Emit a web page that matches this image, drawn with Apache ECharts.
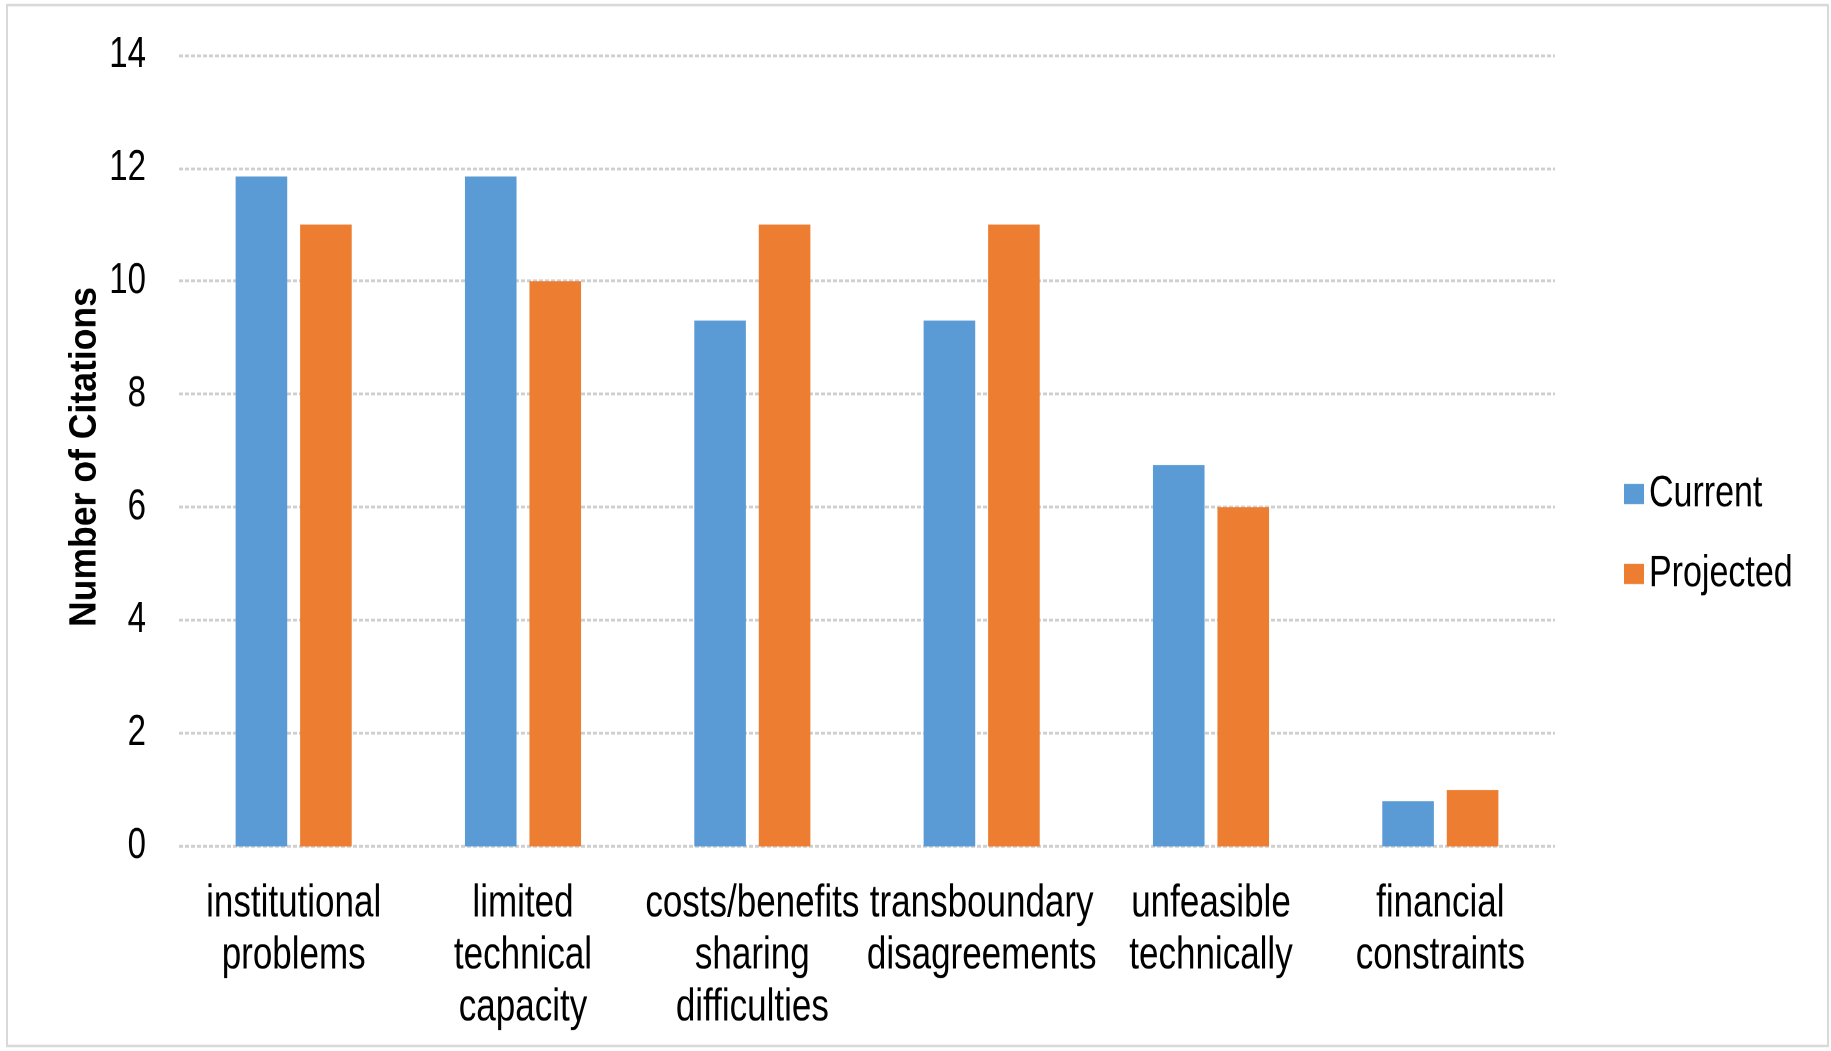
<!DOCTYPE html>
<html>
<head>
<meta charset="utf-8">
<title>Number of Citations</title>
<script src="https://cdn.jsdelivr.net/npm/echarts@6/dist/echarts.min.js"></script>
<style>
  html, body { margin: 0; padding: 0; background: #fff; width: 1831px; height: 1051px; }
  #frame { position: relative; width: 1831px; height: 1051px; }
  /* The chart is laid out on a shorter canvas and stretched vertically,
     which gives the tall, narrow lettering of the printed figure. */
  #chart {
    position: absolute;
    left: 0;
    top: 0;
    width: 1831px;
    height: 808.46px;
    transform: scaleY(1.3);
    transform-origin: 0 0;
  }
</style>
</head>
<body>
<div id="frame"><div id="chart"></div></div>
<script>
// Constraint categories shown along the x axis
const categories = [
  'institutional\nproblems',
  'limited\ntechnical\ncapacity',
  'costs/benefits\nsharing\ndifficulties',
  'transboundary\ndisagreements',
  'unfeasible\ntechnically',
  'financial\nconstraints'
];

// Number of citations per category
const currentValues = [11.85, 11.85, 9.3, 9.3, 6.75, 0.8];
const projectedValues = [11, 10, 11, 11, 6, 1];

const seriesNames = ['Current', 'Projected'];
const yAxisTitle = 'Number of Citations';

const STRETCH = 1.3;
const FONT = "'Liberation Sans', Arial, sans-serif";

const chart = echarts.init(document.getElementById('chart'), null, {
  renderer: 'canvas',
  devicePixelRatio: 2
});

chart.setOption({
  animation: false,
  backgroundColor: '#ffffff',
  color: ['#5B9BD5', '#ED7D31'],
  graphic: [
    {
      type: 'rect',
      shape: { x: 7, y: 5 / STRETCH, width: 1821, height: 1041 / STRETCH },
      style: { fill: 'none', stroke: '#d9d9d9', lineWidth: 2 },
      silent: true
    },
    {
      // vertical axis title, condensed along its length
      type: 'text',
      x: 85,
      y: 457 / STRETCH,
      rotation: Math.PI / 2,
      scaleX: 0.72,
      style: {
        text: yAxisTitle,
        font: "bold 38px 'Liberation Sans', Arial, sans-serif",
        fill: '#000',
        align: 'center',
        verticalAlign: 'middle'
      },
      silent: true
    }
  ],
  grid: { left: 179, right: 276, top: 55 / STRETCH, bottom: 204 / STRETCH },
  legend: {
    orient: 'vertical',
    left: 1619,
    top: 358,
    icon: 'rect',
    itemWidth: 20,
    itemHeight: 20 / STRETCH,
    itemGap: 27.5,
    textStyle: { fontFamily: FONT, fontSize: 34, color: '#000', lineHeight: 34 },
    data: seriesNames
  },
  xAxis: {
    type: 'category',
    data: categories,
    axisLine: { show: false },
    axisTick: { show: false },
    axisLabel: {
      interval: 0,
      margin: 24.2,
      fontFamily: FONT,
      fontSize: 35,
      lineHeight: 40,
      color: '#000'
    }
  },
  yAxis: {
    type: 'value',
    min: 0,
    max: 14,
    interval: 2,
    axisLine: { show: false },
    axisTick: { show: false },
    axisLabel: { margin: 33, fontFamily: FONT, fontSize: 33, color: '#000' },
    splitLine: { lineStyle: { color: '#cfcfcf', width: 2.3, type: [4, 2] } }
  },
  series: [
    {
      name: seriesNames[0],
      type: 'bar',
      data: currentValues,
      barWidth: '22.5%',
      barGap: '25%'
    },
    {
      name: seriesNames[1],
      type: 'bar',
      data: projectedValues,
      barWidth: '22.5%',
      barGap: '25%'
    }
  ]
});
</script>
</body>
</html>
